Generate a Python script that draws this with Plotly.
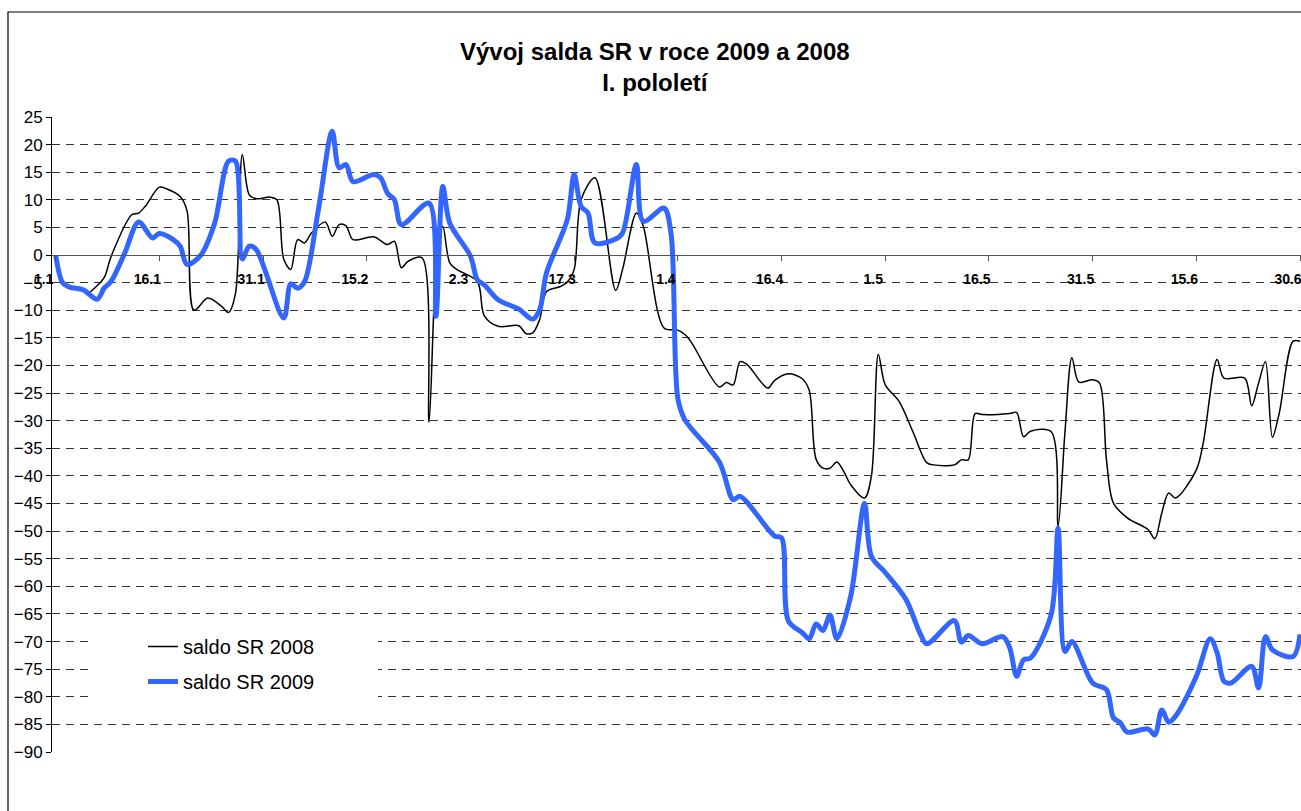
import plotly.graph_objects as go

# Day offsets from 1 January (half-year), and balance values (bn) read per day
days_2008 = [5, 7, 8, 11, 12, 13, 15, 16, 18, 19, 20, 22, 24, 25, 26, 27, 28, 29, 31, 32,
             33, 34, 35, 36, 37, 39, 40, 41, 42, 43, 46, 48, 49, 50, 51, 53, 54, 55, 56, 57,
             58, 61, 62, 64, 67, 68, 69, 70, 71, 73, 74, 75, 76, 78, 81, 82, 84, 85, 88, 90,
             91, 92, 96, 97, 98, 99, 100, 103, 104, 106, 108, 109, 110, 111, 112, 113, 114, 115, 117, 118,
             119, 120, 122, 124, 126, 127, 130, 131, 132, 133, 134, 138, 139, 140, 141, 144, 145, 146, 147, 148,
             150, 151, 152, 153, 155, 158, 159, 160, 161, 162, 165, 166, 168, 169, 172, 173, 174, 175, 176, 177,
             179, 180]
saldo_2008 = [-6.7, -4.1, -0.3, 7.3, 7.6, 8.9, 12.3, 12.0, 10.6, 8.0, -10.0, -7.8, -9.3, -10.4, -7.0, 18.2, 10.9, 10.2, 10.5, 10.0,
              -0.8, -2.6, 2.8, 2.2, 4.0, 6.0, 3.4, 5.5, 5.3, 2.8, 3.3, 1.9, 2.5, -2.3, -1.1, -0.5, -30.3, -3.0, 5.2, -1.4,
              -2.6, -4.8, -11.0, -12.9, -12.8, -14.2, -14.1, -11.7, -6.6, -5.7, -4.9, -2.6, 10.0, 14.0, -6.4, -2.6, 7.6, 5.2, -13.2, -13.6,
              -14.4, -15.9, -23.9, -23.1, -23.5, -19.3, -19.8, -24.1, -22.7, -21.5, -22.4, -24.5, -37.0, -38.6, -38.6, -37.5, -39.2, -41.6, -44.0, -40.0,
              -18.0, -23.5, -26.5, -32.0, -37.6, -38.0, -38.0, -37.1, -37.1, -28.7, -28.9, -28.7, -28.5, -32.9, -31.9, -32.0, -49.1, -32.0, -18.6, -23.0,
              -22.6, -23.2, -37.1, -44.9, -47.6, -49.7, -51.4, -46.7, -43.1, -44.0, -38.9, -34.0, -18.9, -22.3, -22.3, -27.3, -23.2, -19.3, -33.0, -28.6,
              -15.6, -15.6]

days_2009 = [0, 1, 2, 4, 6, 7, 8, 10, 12, 14, 15, 17, 18, 19, 21, 23, 25, 26, 27, 28,
             29, 33, 34, 35, 36, 38, 40, 41, 42, 43, 46, 47, 48, 49, 50, 54, 55, 56, 57, 60,
             61, 62, 64, 67, 69, 70, 71, 74, 75, 76, 77, 78, 81, 82, 84, 85, 88, 89, 90, 91,
             96, 98, 99, 104, 105, 106, 108, 109, 110, 111, 112, 113, 115, 117, 118, 120, 123, 125, 126, 130,
             131, 132, 134, 137, 138, 139, 140, 141, 144, 145, 146, 147, 150, 152, 153, 154, 155, 158, 159, 160,
             161, 162, 165, 167, 168, 169, 170, 173, 174, 175, 176, 179, 180]
saldo_2009 = [0.0, -5.0, -5.8, -6.3, -8.0, -6.0, -4.8, 0.4, 6.0, 3.1, 3.9, 2.8, 1.6, -1.7, 0.0, 5.8, 17.0, 17.0, -0.7, 1.6,
              1.0, -11.4, -5.2, -6.0, -4.8, 8.2, 22.4, 15.8, 16.4, 13.3, 14.6, 14.0, 11.2, 10.0, 5.5, 9.4, -11.1, 12.4, 5.8, -0.2,
              -4.5, -5.4, -8.1, -9.8, -11.6, -9.9, -3.2, 6.4, 14.6, 8.8, 7.6, 2.2, 2.9, 4.0, 16.4, 6.1, 8.5, 4.0, -26.0, -29.8,
              -37.5, -44.3, -43.7, -50.9, -51.2, -66.3, -68.4, -69.5, -66.8, -68.0, -65.2, -69.5, -61.8, -45.0, -54.6, -57.5, -62.4, -68.4, -70.4, -66.2,
              -70.1, -68.9, -70.4, -69.1, -71.1, -76.3, -73.3, -73.0, -65.1, -49.5, -71.8, -70.0, -77.5, -78.7, -83.8, -84.7, -86.4, -85.8, -86.9, -82.4,
              -84.6, -83.5, -76.3, -69.5, -72.0, -77.2, -77.5, -74.5, -78.4, -69.1, -71.5, -72.7, -68.7]

tick_days = [0, 15, 30, 45, 60, 75, 90, 105, 120, 135, 150, 165, 180]
tick_labels = ["1.1", "16.1", "31.1", "15.2", "2.3", "17.3", "1.4", "16.4", "1.5", "16.5", "31.5", "15.6", "30.6"]

Y_MIN, Y_MAX = -90, 25
FONT = "Arial, Liberation Sans, sans-serif"

fig = go.Figure()
fig.add_trace(go.Scatter(
    x=days_2008, y=saldo_2008, mode="lines", name="saldo SR 2008",
    line=dict(color="#000000", width=1.5, shape="spline", smoothing=0.9),
    legendgroup="a",
))
fig.add_trace(go.Scatter(
    x=days_2009, y=saldo_2009, mode="lines", name="saldo SR 2009",
    line=dict(color="#3366FF", width=5, shape="spline", smoothing=0.9),
    legendgroup="b",
))

# outer chart frame
fig.add_shape(type="rect", xref="paper", yref="paper",
              x0=(8 - 52) / 1249, x1=1.02, y0=-0.2, y1=(752 - 12) / 635,
              line=dict(color="#000000", width=1.2), fillcolor="rgba(0,0,0,0)", layer="above")
# white patch behind the legend
fig.add_shape(type="rect", xref="paper", yref="paper",
              x0=(91 - 52) / 1249, x1=(378 - 52) / 1249,
              y0=(752 - 714) / 635, y1=(752 - 624) / 635,
              line=dict(width=0), fillcolor="white", layer="above")

fig.add_annotation(
    text="<b>Vývoj salda SR v roce 2009 a 2008<br>I. pololetí</b>",
    xref="paper", yref="paper", x=(655 - 52) / 1249, y=(752 - 36) / 635,
    xanchor="center", yanchor="top", showarrow=False,
    font=dict(family=FONT, size=24, color="#000000"),
)

fig.update_layout(
    width=1301, height=811,
    margin=dict(l=52, r=0, t=117, b=59, pad=0),
    paper_bgcolor="white", plot_bgcolor="white",
    font=dict(family=FONT, color="#000000"),
    showlegend=True,
    legend=dict(
        x=(143 - 52) / 1249, y=(752 - 627) / 635, xanchor="left", yanchor="top",
        bgcolor="rgba(255,255,255,0)", borderwidth=0,
        font=dict(family=FONT, size=20, color="#000000"),
        tracegroupgap=6, itemwidth=30,
    ),
    xaxis=dict(
        range=[-0.535, 180.14], tickmode="array", tickvals=tick_days, ticktext=tick_labels,
        anchor="free", position=(0 - Y_MIN) / (Y_MAX - Y_MIN),
        showline=True, linecolor="#555555", linewidth=1.2,
        ticks="outside", ticklen=5, tickcolor="#555555",
        showgrid=False, zeroline=False, automargin=False,
        tickfont=dict(family=FONT, size=14, color="#000000", weight="bold"),
        ticklabelshift=-12, ticklabelstandoff=6, ticklabeloverflow="allow",
    ),
    yaxis=dict(
        range=[Y_MIN, Y_MAX], tick0=0, dtick=5,
        showline=True, linecolor="#000000", linewidth=1,
        ticks="outside", ticklen=5, tickcolor="#000000",
        showgrid=True, gridcolor="#333333", gridwidth=1, griddash="8px,6px",
        zeroline=False, automargin=False,
        tickfont=dict(family=FONT, size=17, color="#000000"),
    ),
)

fig.write_html("out.html")
